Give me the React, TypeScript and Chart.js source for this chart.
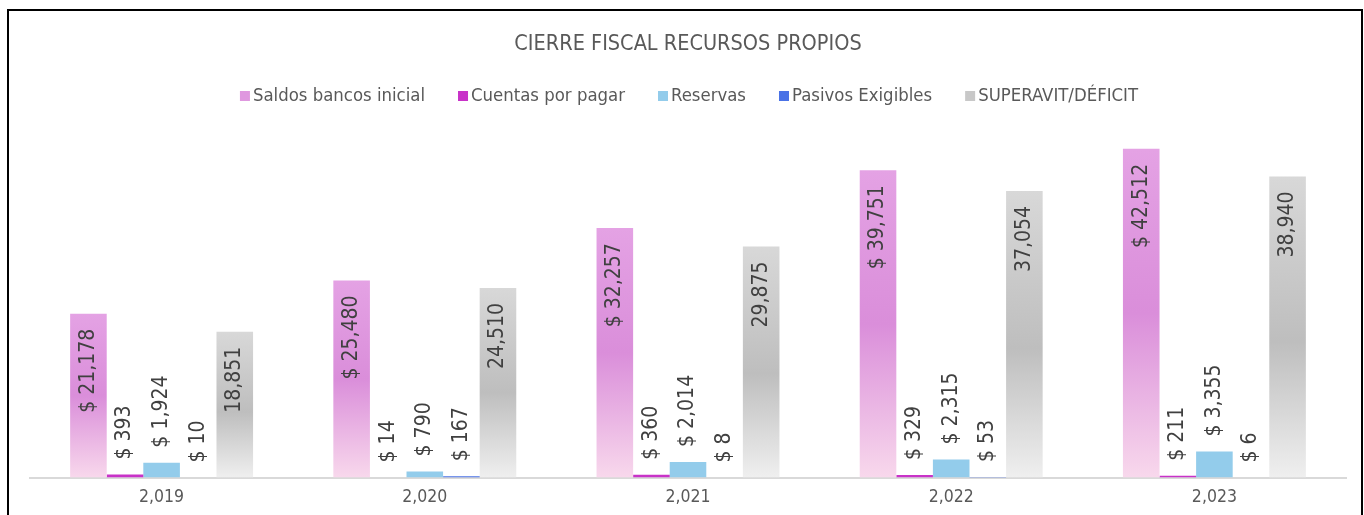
import React, { useEffect, useRef } from "react";
import { Chart, registerables } from "chart.js";

Chart.register(...registerables);

const categories = ["2,019", "2,020", "2,021", "2,022", "2,023"];
const saldosBancos = [21178, 25480, 32257, 39751, 42512];
const cuentasPorPagar = [393, 14, 360, 329, 211];
const reservas = [1924, 790, 2014, 2315, 3355];
const pasivosExigibles = [10, 167, 8, 53, 6];
const superavit = [18851, 24510, 29875, 37054, 38940];
const seriesNames = ["Saldos bancos inicial", "Cuentas por pagar", "Reservas", "Pasivos Exigibles", "SUPERAVIT/DÉFICIT"];
const yMax = 45000;

const FONT = '"DejaVu Sans Condensed", "DejaVu Sans", sans-serif';

function gradientFill(stops: [number, string][], fallback: string) {
  return (ctx: any) => {
    const chart = ctx.chart;
    if (!chart.chartArea || ctx.type !== "data") return fallback;
    const y = chart.scales.y;
    const v = ctx.dataset.data[ctx.dataIndex];
    const top = y.getPixelForValue(v);
    const base = y.getPixelForValue(0);
    if (!isFinite(top) || base - top < 1) return fallback;
    const g = chart.ctx.createLinearGradient(0, top, 0, base);
    stops.forEach(([o, c]) => g.addColorStop(o, c));
    return g;
  };
}

const pinkStops: [number, string][] = [[0, "#E4A2E4"], [0.5, "#DA8EDA"], [1, "#F8D8EC"]];
const grayStops: [number, string][] = [[0, "#D8D8D8"], [0.55, "#BEBEBE"], [1, "#EFEFEF"]];
const legendColors = ["#DF98DF", "#C832C8", "#93CCEB", "#4A72E6", "#C8C8C8"];

const labelPlugin = {
  id: "valueLabels",
  afterDatasetsDraw(chart: any) {
    const ctx = chart.ctx;
    ctx.save();
    ctx.font = `21px ${FONT}`;
    ctx.fillStyle = "#404040";
    ctx.textBaseline = "middle";
    chart.data.datasets.forEach((ds: any, di: number) => {
      const meta = chart.getDatasetMeta(di);
      const inside = di === 0 || di === 4;
      meta.data.forEach((bar: any, i: number) => {
        const v = ds.data[i];
        const txt = (di === 4 ? "" : "$ ") + v.toLocaleString("en-US");
        ctx.save();
        ctx.translate(bar.x, bar.y);
        ctx.rotate(-Math.PI / 2);
        if (inside) {
          ctx.textAlign = "right";
          ctx.fillText(txt, -15, 0);
        } else {
          ctx.textAlign = "left";
          ctx.fillText(txt, 15, 0);
        }
        ctx.restore();
      });
    });
    ctx.restore();
  },
};

const legendPlugin = {
  id: "customLegend",
  afterDraw(chart: any) {
    const ctx = chart.ctx;
    ctx.save();
    ctx.font = `18.4px ${FONT}`;
    const box = 10, boxGap = 3, gap = 33;
    const widths = seriesNames.map((n) => ctx.measureText(n).width);
    const total = widths.reduce((a, w) => a + box + boxGap + w, 0) + gap * (seriesNames.length - 1);
    let x = chart.width / 2 + 4 - total / 2;
    const cy = 85;
    ctx.textBaseline = "middle";
    ctx.textAlign = "left";
    seriesNames.forEach((n, i) => {
      ctx.fillStyle = legendColors[i];
      ctx.fillRect(x, cy - box / 2, box, box);
      ctx.fillStyle = "#595959";
      ctx.fillText(n, x + box + boxGap, cy);
      x += box + boxGap + widths[i] + gap;
    });
    ctx.restore();
  },
};

export default function App() {
  const ref = useRef<HTMLCanvasElement>(null);
  useEffect(() => {
    if (!ref.current) return;
    const chart = new Chart(ref.current, {
      type: "bar",
      data: {
        labels: categories,
        datasets: [
          { label: seriesNames[0], data: saldosBancos, backgroundColor: gradientFill(pinkStops, "#DF98DF") },
          { label: seriesNames[1], data: cuentasPorPagar, backgroundColor: "#C832C8" },
          { label: seriesNames[2], data: reservas, backgroundColor: "#93CCEB" },
          { label: seriesNames[3], data: pasivosExigibles, backgroundColor: "#4A72E6" },
          { label: seriesNames[4], data: superavit, backgroundColor: gradientFill(grayStops, "#C8C8C8") },
        ],
      },
      options: {
        animation: false,
        responsive: true,
        maintainAspectRatio: false,
        datasets: { bar: { categoryPercentage: 0.695, barPercentage: 1.0 } } as any,
        layout: { padding: { left: 21, right: 15, top: 0, bottom: 4.5 } },
        plugins: {
          legend: { display: false },
          tooltip: { enabled: false },
          title: {
            display: true,
            text: "CIERRE FISCAL RECURSOS PROPIOS",
            color: "#595959",
            font: { family: FONT, size: 21.5, weight: "normal" },
            padding: { top: 21, bottom: 71.8 },
          },
        },
        scales: {
          x: {
            grid: { display: false, drawTicks: false, tickLength: 0 },
            border: { display: true, color: "#D9D9D9", width: 2 },
            ticks: { color: "#595959", font: { family: FONT, size: 17.5 }, padding: 9.5 },
          },
          y: { display: false, min: 0, max: yMax },
        },
      },
      plugins: [labelPlugin, legendPlugin],
    });
    return () => chart.destroy();
  }, []);
  return (
    <div
      style={{
        position: "absolute",
        left: 7,
        top: 9,
        width: 1356,
        height: 515,
        border: "2px solid #000",
        boxSizing: "border-box",
        background: "#fff",
      }}
    >
      <canvas ref={ref} />
    </div>
  );
}
